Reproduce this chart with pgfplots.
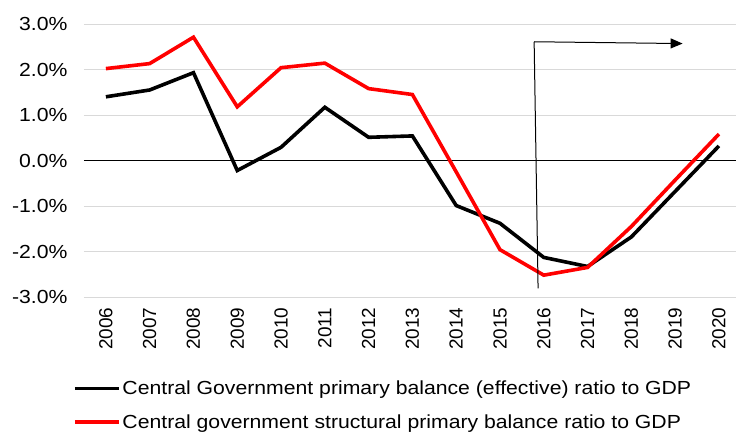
\documentclass[border=0pt]{standalone}
\usepackage{fontspec}
\setmainfont[FakeStretch=1.12]{Liberation Sans}
\newfontfamily\plainfont{Liberation Sans}
\usepackage{pgfplots}
\pgfplotsset{compat=1.18}
\usetikzlibrary{arrows.meta}
\begin{document}
\begin{tikzpicture}
\useasboundingbox (-84bp,-136bp) rectangle (652bp,297bp);
\begin{axis}[
  at={(0,0)}, anchor=south west,
  scale only axis, width=652bp, height=273bp,
  xmin=-0.5, xmax=14.39, ymin=-3, ymax=3,
  axis line style={draw=none},
  major tick length=0pt,
  xtick={0,1,2,3,4,5,6,7,8,9,10,11,12,13,14},
  xticklabels={2006,2007,2008,2009,2010,2011,2012,2013,2014,2015,2016,2017,2018,2019,2020},
  ytick={-3,-2,-1,0,1,2,3},
  yticklabels={-3.0\%,-2.0\%,-1.0\%,0.0\%,1.0\%,2.0\%,3.0\%},
  xticklabel style={rotate=90, anchor=east, font=\plainfont\fontsize{19}{22}\selectfont},
  yticklabel style={font=\fontsize{19}{22}\selectfont},
  xticklabel shift=7bp,
  yticklabel shift=13bp,
  ymajorgrids,
  grid style={draw=black!15, line width=1bp},
  clip=false,
  legend style={at={(rel axis cs:0,0)}, anchor=north west, xshift=-14bp, yshift=-80bp,
    draw=none, fill=none, font=\fontsize{19}{22}\selectfont, row sep=14bp,
    cells={anchor=west}},
  legend image code/.code={\draw[#1, line width=3.3bp] (0bp,0bp) -- (44bp,0bp);},
]
\draw[black, line width=0.9bp] (axis cs:-0.5,0) -- (axis cs:14.39,0);
\addplot[black, line width=3.6bp] coordinates {
(0,1.40)(1,1.55)(2,1.93)(3,-0.22)(4,0.29)(5,1.17)(6,0.51)(7,0.54)(8,-0.99)(9,-1.38)(10,-2.13)(11,-2.33)(12,-1.68)(13,-0.68)(14,0.32)};
\addlegendentry{Central Government primary balance (effective) ratio to GDP}
\addplot[red, line width=3.6bp] coordinates {
(0,2.02)(1,2.13)(2,2.71)(3,1.18)(4,2.04)(5,2.14)(6,1.58)(7,1.45)(8,-0.25)(9,-1.96)(10,-2.52)(11,-2.35)(12,-1.45)(13,-0.43)(14,0.58)};
\addlegendentry{Central government structural primary balance ratio to GDP}
\draw[black, line width=1bp] (axis cs:9.87,-2.81) -- (axis cs:9.78,2.61);
\draw[black, line width=1bp, -{Triangle[length=12bp,width=10bp]}] (axis cs:9.78,2.61) -- (axis cs:13.17,2.57);
\end{axis}
\end{tikzpicture}
\end{document}
